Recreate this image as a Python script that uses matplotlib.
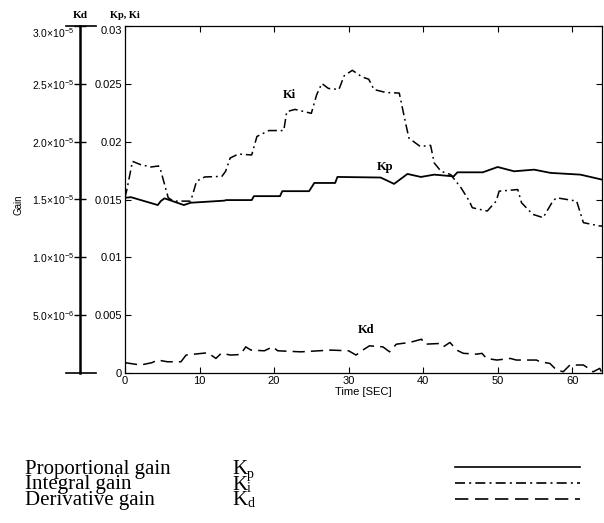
import matplotlib
matplotlib.use("Agg")
import matplotlib.pyplot as plt
from matplotlib.lines import Line2D
import numpy as np

# Kp (proportional gain)
kp_t = [0.0, 0.8, 4.4, 4.8, 5.3, 7.9, 8.8, 13.3, 13.6, 17.0, 17.3, 20.8, 21.1,
        24.7, 25.4, 28.2, 28.5, 34.3, 36.1, 37.9, 39.7, 41.5, 44.1, 44.6, 48.0,
        50.0, 52.2, 54.9, 57.1, 61.1, 64.0]
kp_v = [0.01515, 0.0152, 0.01452, 0.01486, 0.0151, 0.01452, 0.01472, 0.0149,
        0.01495, 0.01495, 0.01529, 0.01529, 0.01572, 0.01572, 0.01643, 0.01643,
        0.01695, 0.01690, 0.01635, 0.01721, 0.01695, 0.01715, 0.0170, 0.01735,
        0.01735, 0.01781, 0.01744, 0.01758, 0.0173, 0.01715, 0.01672]

# Ki (integral gain)
ki_t = [0.0, 0.3, 1.0, 2.1, 3.5, 4.5, 4.8, 5.8, 6.5, 8.8, 9.1, 9.6, 10.7, 13.0,
        13.5, 14.1, 15.2, 17.0, 17.7, 19.3, 21.3, 21.7, 22.8, 25.0, 25.7, 26.4,
        27.3, 28.7, 29.4, 30.5, 31.8, 32.7, 33.4, 35.0, 36.8, 37.7, 38.1, 39.6,
        41.0, 41.5, 42.4, 43.7, 45.1, 46.2, 46.6, 48.6, 49.8, 50.2, 52.7, 53.2,
        54.7, 56.1, 57.4, 57.9, 60.6, 61.5, 63.7, 64.0]
ki_v = [0.01515, 0.0160, 0.0183, 0.01801, 0.01781, 0.0179, 0.0175, 0.01515,
        0.01486, 0.01486, 0.01546, 0.01658, 0.01695, 0.0170, 0.01744, 0.01858,
        0.01893, 0.01885, 0.02045, 0.02096, 0.02096, 0.02259, 0.02279, 0.02245,
        0.02403, 0.02503, 0.0246, 0.02451, 0.02569, 0.02617, 0.0256, 0.0254,
        0.02451, 0.02425, 0.0242, 0.02145, 0.0203, 0.01959, 0.01968, 0.01815,
        0.01744, 0.01715, 0.0160, 0.01486, 0.01429, 0.0140, 0.01486, 0.01572,
        0.01586, 0.01472, 0.01372, 0.01343, 0.01486, 0.01515, 0.01486, 0.0130,
        0.01271, 0.01271]

# Kd (derivative gain), in units of 1e-6
kd_t = [0.0, 2.1, 3.6, 4.4, 5.7, 7.5, 8.2, 9.3, 11.1, 12.2, 12.9, 14.2, 15.5,
        16.2, 16.9, 18.7, 19.8, 20.5, 23.6, 27.6, 30.0, 31.0, 31.9, 32.8, 34.6,
        35.5, 36.4, 38.2, 39.8, 40.2, 42.2, 42.7, 43.6, 44.5, 45.4, 47.2, 47.9,
        48.5, 49.9, 51.7, 52.5, 55.2, 55.7, 57.0, 57.9, 58.8, 59.7, 61.5, 62.2,
        62.8, 63.7, 64.0]
kd_v = [0.89, 0.69, 0.89, 1.12, 0.97, 0.97, 1.55, 1.63, 1.75, 1.26, 1.70, 1.55,
        1.60, 2.26, 1.98, 1.92, 2.26, 1.92, 1.83, 1.98, 1.92, 1.55, 1.98, 2.35,
        2.26, 1.83, 2.49, 2.64, 2.92, 2.49, 2.55, 2.26, 2.64, 1.98, 1.70, 1.63,
        1.70, 1.26, 1.12, 1.26, 1.12, 1.12, 0.97, 0.83, 0.26, 0.11, 0.69, 0.69,
        0.40, 0.10, 0.40, 0.0]

main_ticks = [0, 0.005, 0.01, 0.015, 0.02, 0.025, 0.03]
main_labels = ["0", "0.005", "0.01", "0.015", "0.02", "0.025", "0.03"]
kd_ticks = [5e-6, 1e-5, 1.5e-5, 2e-5, 2.5e-5, 3e-5]
kd_labels = [r"$\mathregular{5.0{\times}10^{-6}}$", r"$\mathregular{1.0{\times}10^{-5}}$",
             r"$\mathregular{1.5{\times}10^{-5}}$", r"$\mathregular{2.0{\times}10^{-5}}$",
             r"$\mathregular{2.5{\times}10^{-5}}$", r"$\mathregular{3.0{\times}10^{-5}}$"]
time_ticks = [0, 10, 20, 30, 40, 50, 60]

legend_names = ["Proportional gain", "Integral gain", "Derivative gain"]
legend_subs = ["p", "i", "d"]

plt.rcParams["font.family"] = "Liberation Sans"
serif = "Liberation Serif"

W, H = 604, 523
fig = plt.figure(figsize=(W / 100, H / 100), dpi=100)

bot = (H - 373) / H
top = (H - 26) / H
ax = fig.add_axes([125 / W, bot, (602 - 125) / W, top - bot])

ki_style = (0, (6, 2.5, 1.2, 2.5))
kd_style = (0, (8, 4))

ax.plot(kp_t, kp_v, color="black", lw=1.3)
ax.plot(ki_t, ki_v, color="black", lw=1.1, linestyle=ki_style)

# Kd on its own scale, sharing the plot area
axd = ax.twinx()
axd.plot(kd_t, np.array(kd_v) * 1e-6, color="black", lw=1.1, linestyle=kd_style)
axd.set_ylim(0, 3e-5)
axd.set_yticks([])
for s in axd.spines.values():
    s.set_visible(False)

ax.set_xlim(0, 64)
ax.set_ylim(0, 0.03)
ax.set_xticks(time_ticks)
ax.set_yticks(main_ticks, main_labels)
ax.tick_params(direction="in", length=4, width=0.8, labelsize=8, top=True, right=True,
               pad=2)
ax.get_yticklabels()[-1].set_va("top")
for s in ax.spines.values():
    s.set_linewidth(0.9)
ax.set_xlabel("Time [SEC]", fontsize=8, labelpad=1)

ax.text(22.0, 0.0240, "Ki", fontfamily=serif, fontweight="bold", fontsize=9,
        ha="center", va="center")
ax.text(34.9, 0.0178, "Kp", fontfamily=serif, fontweight="bold", fontsize=9,
        ha="center", va="center")
ax.text(32.3, 0.0037, "Kd", fontfamily=serif, fontweight="bold", fontsize=9,
        ha="center", va="center")

# separate Kd axis on the left
axk = fig.add_axes([66 / W, bot, 30 / W, top - bot])
axk.patch.set_visible(False)
axk.set_xlim(0, 1)
axk.set_ylim(0, 3e-5)
axk.set_xticks([])
axk.spines["right"].set_visible(False)
axk.spines["left"].set_position(("axes", 0.47))
axk.spines["left"].set_linewidth(1.8)
axk.spines["top"].set_linewidth(1.2)
axk.spines["bottom"].set_linewidth(1.2)
axk.set_yticks(kd_ticks, kd_labels)
axk.tick_params(axis="y", direction="inout", length=9, width=1.0, labelsize=7.5, pad=0)
axk.get_yticklabels()[-1].set_va("top")

fig.text(80 / W, 1 - 15 / H, "Kd", fontfamily=serif, fontweight="bold", fontsize=8,
         ha="center", va="center")
fig.text(110 / W, 1 - 15 / H, "Kp, Ki", fontfamily=serif, fontweight="bold", fontsize=7.5,
         ha="left", va="center")
fig.text(18 / W, 1 - 205 / H, "Gain", fontsize=7, rotation=90, ha="center", va="center")

# legend block under the chart: names and symbols as stacked text, line samples
row_y = [467, 483, 499]
styles = ["-", ki_style, kd_style]
fig.text(25 / W, 1 - 485 / H, "\n".join(legend_names), fontfamily=serif,
         fontsize=15, ha="left", va="center", linespacing=0.78)
fig.text(232 / W, 1 - 485 / H, "\n".join(["K"] * 3), fontfamily=serif,
         fontsize=15, ha="left", va="center", linespacing=0.78)
fig.text(247 / W, 1 - 489 / H, "\n".join(legend_subs), fontfamily=serif,
         fontsize=10, ha="left", va="center", linespacing=1.17)
for y, ls in zip(row_y, styles):
    fig.add_artist(Line2D([455 / W, 580 / W], [1 - y / H, 1 - y / H],
                          color="black", lw=1.2, linestyle=ls,
                          transform=fig.transFigure))

fig.savefig("out.png", dpi=100)
